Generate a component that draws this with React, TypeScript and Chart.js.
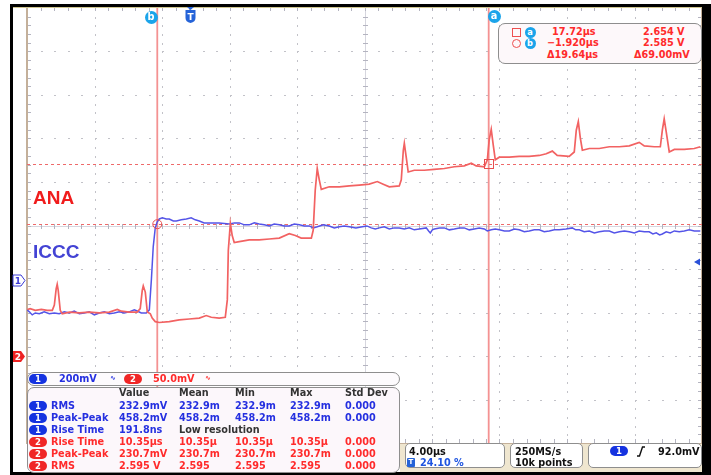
import React, { useEffect, useRef } from 'react';
import { Chart, registerables } from 'chart.js';
Chart.register(...registerables);

// ---------------- data ----------------
const timeLeft = -9.64; // µs at left screen edge (24.10 % pre-trigger)
const timePerDiv = 4.0; // µs/div
const divisions = 10;
const ch1VoltsPerDiv = 0.2; // 200 mV/div
const ch1Bottom = -0.75;
const ch2VoltsPerDiv = 0.05; // 50 mV/div
const ch2Bottom = 2.3335;

// channel 2 (ANA, red): [time µs, volts]
const ch2Samples: [number, number][] = [
  [-9.62, 2.487], [-9.45, 2.488], [-9.15, 2.486], [-8.79, 2.487], [-8.44, 2.486], [-8.14, 2.486],
  [-8.02, 2.492], [-7.91, 2.511], [-7.85, 2.516], [-7.79, 2.509], [-7.67, 2.486], [-7.55, 2.482],
  [-7.13, 2.484], [-6.54, 2.483], [-5.95, 2.484], [-5.36, 2.483], [-4.76, 2.484], [-4.29, 2.487],
  [-4.05, 2.485], [-3.58, 2.484], [-3.11, 2.484], [-2.93, 2.488], [-2.81, 2.509], [-2.75, 2.514],
  [-2.63, 2.507], [-2.51, 2.484], [-2.33, 2.482], [-2.22, 2.477], [-2.04, 2.473], [-1.80, 2.472],
  [-1.21, 2.473], [-0.62, 2.475], [-0.02, 2.476], [0.57, 2.477], [0.98, 2.480], [1.28, 2.478],
  [1.75, 2.477], [2.11, 2.478], [2.23, 2.498], [2.29, 2.555], [2.41, 2.586], [2.52, 2.572],
  [2.64, 2.564], [2.94, 2.565], [3.53, 2.567], [4.12, 2.567], [4.72, 2.568], [5.31, 2.569],
  [5.90, 2.574], [6.26, 2.572], [6.61, 2.569], [7.21, 2.569], [7.32, 2.578], [7.44, 2.624],
  [7.56, 2.649], [7.68, 2.636], [7.80, 2.625], [8.27, 2.628], [8.87, 2.628], [9.46, 2.629],
  [10.05, 2.630], [10.64, 2.631], [11.12, 2.634], [11.47, 2.631], [11.83, 2.628], [12.42, 2.629],
  [12.54, 2.636], [12.66, 2.670], [12.72, 2.678], [12.84, 2.661], [12.95, 2.645], [13.31, 2.647],
  [13.90, 2.647], [14.49, 2.648], [15.09, 2.649], [15.68, 2.651], [16.27, 2.652], [16.69, 2.655],
  [16.98, 2.652], [17.46, 2.651], [17.64, 2.659], [17.75, 2.682], [17.87, 2.694], [17.99, 2.676],
  [18.11, 2.659], [18.35, 2.662], [18.94, 2.662], [19.53, 2.663], [20.12, 2.663], [20.72, 2.664],
  [21.13, 2.666], [21.49, 2.669], [21.78, 2.664], [22.49, 2.663], [22.79, 2.668], [22.91, 2.693],
  [23.03, 2.703], [23.15, 2.684], [23.27, 2.670], [23.68, 2.672], [24.27, 2.672], [24.87, 2.674],
  [25.46, 2.674], [26.05, 2.675], [26.64, 2.679], [26.94, 2.675], [27.53, 2.674], [27.89, 2.674],
  [28.01, 2.693], [28.12, 2.706], [28.24, 2.691], [28.42, 2.668], [28.72, 2.671], [29.31, 2.671],
  [29.90, 2.672], [30.26, 2.674],
];

// channel 1 (ICCC, blue): [time µs, volts]
const ch1Samples: [number, number][] = [
  [-9.64, -0.138], [-9.50, -0.147], [-9.33, -0.161], [-9.15, -0.152], [-8.91, -0.156], [-8.62, -0.147],
  [-8.32, -0.156], [-8.02, -0.152], [-7.73, -0.156], [-7.43, -0.147], [-7.13, -0.152], [-6.84, -0.143],
  [-6.54, -0.156], [-6.25, -0.152], [-5.95, -0.147], [-5.65, -0.161], [-5.36, -0.152], [-5.06, -0.147],
  [-4.76, -0.156], [-4.47, -0.152], [-4.17, -0.147], [-3.88, -0.152], [-3.58, -0.147], [-3.28, -0.138],
  [-3.11, -0.143], [-2.87, -0.152], [-2.57, -0.152], [-2.39, -0.138], [-2.27, 0.0], [-2.16, 0.152],
  [-2.04, 0.239], [-1.92, 0.267], [-1.80, 0.280], [-1.62, 0.285], [-1.39, 0.280], [-1.21, 0.280],
  [-0.97, 0.271], [-0.79, 0.271], [-0.50, 0.276], [-0.20, 0.280], [0.09, 0.285], [0.33, 0.276],
  [0.57, 0.271], [0.86, 0.262], [1.28, 0.262], [1.75, 0.262], [2.35, 0.257], [2.65, 0.262],
  [2.94, 0.262], [3.24, 0.253], [3.53, 0.253], [3.83, 0.262], [4.12, 0.257], [4.42, 0.253],
  [4.72, 0.248], [5.01, 0.257], [5.31, 0.253], [5.60, 0.248], [5.90, 0.248], [6.20, 0.257],
  [6.50, 0.253], [6.79, 0.248], [7.09, 0.248], [7.33, 0.239], [7.56, 0.244], [7.92, 0.253],
  [8.27, 0.248], [8.57, 0.239], [8.87, 0.244], [9.16, 0.248], [9.46, 0.244], [9.85, 0.239],
  [10.23, 0.244], [10.50, 0.248], [10.76, 0.239], [11.00, 0.234], [11.24, 0.239], [11.53, 0.244],
  [11.83, 0.234], [12.12, 0.239], [12.42, 0.239], [12.72, 0.234], [13.01, 0.239], [13.31, 0.230],
  [13.61, 0.234], [14.02, 0.239], [14.16, 0.225], [14.26, 0.216], [14.38, 0.230], [14.50, 0.234],
  [14.80, 0.239], [15.09, 0.239], [15.39, 0.230], [15.68, 0.234], [15.98, 0.239], [16.27, 0.239],
  [16.57, 0.230], [16.86, 0.234], [17.16, 0.239], [17.46, 0.234], [17.64, 0.225], [17.87, 0.230],
  [18.11, 0.234], [18.35, 0.230], [18.65, 0.225], [18.94, 0.225], [19.24, 0.234], [19.53, 0.230],
  [19.83, 0.221], [20.12, 0.225], [20.42, 0.230], [20.72, 0.230], [21.01, 0.221], [21.31, 0.225],
  [21.61, 0.230], [21.90, 0.230], [22.30, 0.234], [22.67, 0.239], [22.88, 0.230], [23.09, 0.230],
  [23.38, 0.221], [23.68, 0.225], [23.98, 0.216], [24.27, 0.221], [24.57, 0.225], [24.87, 0.225],
  [25.16, 0.216], [25.46, 0.221], [25.76, 0.225], [26.05, 0.221], [26.35, 0.216], [26.64, 0.225],
  [26.94, 0.221], [27.23, 0.221], [27.45, 0.211], [27.65, 0.216], [27.85, 0.207], [28.01, 0.211],
  [28.24, 0.221], [28.48, 0.216], [28.72, 0.225], [29.01, 0.221], [29.31, 0.225], [29.60, 0.230],
  [29.90, 0.225], [30.26, 0.225],
];

// cursors: a, b
const cursorTimes = [17.72, -1.92];
const cursorVolts = [2.654, 2.585];
const readoutTimes = ['17.72µs', '\u22121.920µs', 'Δ19.64µs'];
const readoutVolts = ['2.654 V', '2.585 V', 'Δ69.00mV'];

// measurements table
const measHeaders = ['Value', 'Mean', 'Min', 'Max', 'Std Dev'];
const measChannels = [1, 1, 1, 2, 2, 2];
const measNames = ['RMS', 'Peak-Peak', 'Rise Time', 'Rise Time', 'Peak-Peak', 'RMS'];
const measValue = ['232.9mV', '458.2mV', '191.8ns', '10.35µs', '230.7mV', '2.595 V'];
const measMean = ['232.9m', '458.2m', 'Low resolution', '10.35µ', '230.7m', '2.595'];
const measMin = ['232.9m', '458.2m', '', '10.35µ', '230.7m', '2.595'];
const measMax = ['232.9m', '458.2m', '', '10.35µ', '230.7m', '2.595'];
const measStd = ['0.000', '0.000', '', '0.000', '0.000', '0.000'];

const scaleTexts = ['200mV', '50.0mV'];
const timebaseText = '4.00µs';
const delayText = '24.10 %';
const sampleTexts = ['250MS/s', '10k points'];
const triggerText = '92.0mV';

// ---------------- styles ----------------
const F = '"DejaVu Sans", Verdana, sans-serif';
const BLUE_T = '#2530e0';
const RED_T = '#ff2b2b';
const BLUE_L = '#5454e8';
const RED_L = '#f26262';
const CYAN = '#1ba4ea';

const gridPlugin = {
  id: 'scopeGrid',
  beforeDatasetsDraw(chart: any) {
    const { ctx, chartArea: a, scales } = chart;
    const xs = scales.x;
    const ys = scales.y2;
    const minorX = timePerDiv / 5;
    const minorY = ch2VoltsPerDiv / 5;
    ctx.save();
    const xPix = (t: number) => Math.round(xs.getPixelForValue(t));
    const yPix = (v: number) => Math.round(ys.getPixelForValue(v));
    ctx.fillStyle = '#c2c2c8';
    for (let i = 1; i < divisions; i++) {
      if (i === 5) continue;
      const px = xPix(timeLeft + i * timePerDiv);
      for (let k = 1; k < divisions * 5; k++) {
        const py = yPix(ch2Bottom + k * minorY);
        ctx.fillRect(px, py, 1, 2);
      }
    }
    for (let j = 1; j < divisions; j++) {
      if (j === 5) continue;
      const py = yPix(ch2Bottom + j * ch2VoltsPerDiv);
      for (let k = 1; k < divisions * 5; k++) {
        const px = xPix(timeLeft + k * minorX);
        ctx.fillRect(px, py, 2, 1);
      }
    }
    const cx = xPix(timeLeft + 5 * timePerDiv);
    const cy = yPix(ch2Bottom + 5 * ch2VoltsPerDiv);
    ctx.fillStyle = '#d6d6de';
    ctx.fillRect(cx, a.top, 1, a.bottom - a.top);
    ctx.fillRect(a.left, cy, a.right - a.left, 1);
    ctx.fillStyle = '#b4b4c0';
    for (let k = 1; k < divisions * 5; k++) {
      const py = yPix(ch2Bottom + k * minorY);
      ctx.fillRect(cx - 2, py, 5, 1);
      ctx.fillRect(a.left, py, 4, 1);
      ctx.fillRect(a.right - 4, py, 4, 1);
      const px = xPix(timeLeft + k * minorX);
      ctx.fillRect(px, cy - 2, 1, 5);
      ctx.fillRect(px, a.top, 1, 3);
      ctx.fillRect(px, a.bottom - 4, 1, 4);
    }
    ctx.fillStyle = '#c4b09a';
    ctx.fillRect(a.left - 1, a.top, 2, a.bottom - a.top + 1);
    ctx.fillRect(a.left - 1, a.bottom, a.right - a.left + 1, 1);
    ctx.fillRect(a.right - 1, a.top, 1, a.bottom - a.top);
    ctx.fillStyle = '#cfc690';
    ctx.fillRect(a.left - 14, a.top - 1, a.right - a.left + 14, 1);

    const y2 = scales.y2;
    ctx.strokeStyle = '#ee6a6a';
    ctx.lineWidth = 1;
    ctx.setLineDash([3, 3]);
    cursorVolts.forEach((v) => {
      const py = Math.round(y2.getPixelForValue(v)) + 0.5;
      ctx.beginPath();
      ctx.moveTo(a.left, py);
      ctx.lineTo(a.right, py);
      ctx.stroke();
    });
    ctx.setLineDash([]);
    ctx.strokeStyle = 'rgba(240,110,110,0.75)';
    ctx.lineWidth = 1.8;
    cursorTimes.forEach((t) => {
      const px = xs.getPixelForValue(t);
      ctx.beginPath();
      ctx.moveTo(px, a.top);
      ctx.lineTo(px, a.bottom);
      ctx.stroke();
    });
    ctx.restore();
  },
  afterDatasetsDraw(chart: any) {
    const { ctx, scales } = chart;
    const xs = scales.x;
    const y2 = scales.y2;
    ctx.save();
    ctx.strokeStyle = '#e85050';
    ctx.lineWidth = 1;
    const ax = xs.getPixelForValue(cursorTimes[0]);
    const ay = y2.getPixelForValue(cursorVolts[0]);
    ctx.strokeRect(Math.round(ax) - 4.5, Math.round(ay) - 4.5, 9, 9);
    const bx = xs.getPixelForValue(cursorTimes[1]);
    const by = y2.getPixelForValue(cursorVolts[1]);
    ctx.beginPath();
    ctx.arc(bx, by, 4.5, 0, Math.PI * 2);
    ctx.stroke();
    ctx.restore();
  },
};

function Txt(p: { x: number; y: number; c?: string; s?: number; w?: number; children: any; ff?: string }) {
  return (
    <div
      style={{
        position: 'absolute',
        left: p.x,
        top: p.y - 6,
        lineHeight: '12px',
        fontSize: p.s ?? 9.7,
        fontWeight: p.w ?? 700,
        color: p.c ?? '#222',
        fontFamily: p.ff ?? F,
        whiteSpace: 'pre',
      }}
    >
      {p.children}
    </div>
  );
}

function Pill(p: { x: number; y: number; ch: number }) {
  return (
    <div
      style={{
        position: 'absolute',
        left: p.x,
        top: p.y - 5,
        width: 18,
        height: 10,
        borderRadius: 5,
        background: p.ch === 1 ? '#1533e0' : '#f02626',
        color: '#fff',
        fontSize: 8.5,
        fontWeight: 700,
        lineHeight: '10px',
        textAlign: 'center',
        fontFamily: F,
      }}
    >
      {p.ch}
    </div>
  );
}

function Dot(p: { cx: number; cy: number; r: number; label: string }) {
  return (
    <div
      style={{
        position: 'absolute',
        left: p.cx - p.r,
        top: p.cy - p.r,
        width: p.r * 2,
        height: p.r * 2,
        borderRadius: '50%',
        background: CYAN,
        color: '#fff',
        fontSize: p.r * 1.5,
        fontWeight: 700,
        lineHeight: `${p.r * 2 - 1}px`,
        textAlign: 'center',
        fontFamily: F,
      }}
    >
      {p.label}
    </div>
  );
}

const box = (l: number, t: number, w: number, h: number, bg: string, r = 5): React.CSSProperties => ({
  position: 'absolute',
  left: l,
  top: t,
  width: w,
  height: h,
  boxSizing: 'border-box',
  border: '1.5px solid #8e8e8e',
  borderRadius: r,
  background: bg,
});

export default function App() {
  const ref = useRef<HTMLCanvasElement>(null);
  useEffect(() => {
    const chart = new Chart(ref.current as HTMLCanvasElement, {
      type: 'line',
      data: {
        datasets: [
          {
            label: 'ANA',
            data: ch2Samples.map(([t, v]) => ({ x: t, y: v })),
            yAxisID: 'y2',
            borderColor: RED_L,
            borderWidth: 1.7,
            pointRadius: 0,
            tension: 0,
          },
          {
            label: 'ICCC',
            data: ch1Samples.map(([t, v]) => ({ x: t, y: v })),
            yAxisID: 'y1',
            borderColor: BLUE_L,
            borderWidth: 1.5,
            pointRadius: 0,
            tension: 0,
          },
        ],
      },
      options: {
        animation: false,
        responsive: false,
        maintainAspectRatio: false,
        events: [],
        layout: { padding: { left: 27, top: 8, right: 9, bottom: 32 } },
        plugins: { legend: { display: false }, tooltip: { enabled: false } },
        scales: {
          x: { type: 'linear', min: timeLeft, max: timeLeft + divisions * timePerDiv, display: false },
          y1: { type: 'linear', min: ch1Bottom, max: ch1Bottom + divisions * ch1VoltsPerDiv, display: false },
          y2: { type: 'linear', min: ch2Bottom, max: ch2Bottom + divisions * ch2VoltsPerDiv, display: false },
        },
      },
      plugins: [gridPlugin],
    } as any);
    return () => chart.destroy();
  }, []);

  const rowY = (i: number) => 405.5 + i * 12;
  const colX = [119, 179, 235, 290, 345];

  return (
    <div style={{ position: 'absolute', left: 0, top: 0, width: 711, height: 475, background: '#fff', overflow: 'hidden', fontFamily: F }}>
      <div style={{ position: 'absolute', left: 10, top: 4, width: 701, height: 471, background: '#000' }} />
      <div style={{ position: 'absolute', left: 13, top: 7, width: 689, height: 465, background: '#fff' }} />
      <div style={{ position: 'absolute', left: 400, top: 444, width: 302, height: 28, background: '#efe6cf' }} />
      <canvas ref={ref} width={711} height={475} style={{ position: 'absolute', left: 0, top: 0, width: 711, height: 475 }} />

      {/* trace labels */}
      <div style={{ position: 'absolute', left: 33, top: 188, fontFamily: '"Liberation Sans", Arial, sans-serif', fontWeight: 700, fontSize: 19, lineHeight: '19px', color: '#f01c1c' }}>ANA</div>
      <div style={{ position: 'absolute', left: 33, top: 242, fontFamily: '"Liberation Sans", Arial, sans-serif', fontWeight: 700, fontSize: 19, lineHeight: '19px', color: '#4343d4' }}>ICCC</div>

      {/* top markers */}
      <Dot cx={151} cy={17} r={6.5} label="b" />
      <Dot cx={494} cy={16} r={6.5} label="a" />
      <svg style={{ position: 'absolute', left: 184, top: 7 }} width={13} height={17}>
        <path d="M3 0 H10 L6.5 3 Z" fill="#2563d8" />
        <path d="M1.5 3 H11.5 V11 Q11.5 15 6.5 16 Q1.5 15 1.5 11 Z" fill="#2563d8" />
        <text x={6.5} y={12.5} fontSize={9} fontWeight={700} fill="#fff" textAnchor="middle" fontFamily={F}>T</text>
      </svg>

      {/* channel markers */}
      <svg style={{ position: 'absolute', left: 12, top: 274 }} width={15} height={13}>
        <path d="M1 1 H9 L13 6.5 L9 12 H1 Z" fill="#fff" stroke="#3a3ad6" strokeWidth={1} />
        <text x={6} y={10} fontSize={9} fontWeight={700} fill="#3a3ad6" textAnchor="middle" fontFamily={F}>1</text>
      </svg>
      <svg style={{ position: 'absolute', left: 12, top: 350 }} width={15} height={13}>
        <path d="M1 1 H9 L13 6.5 L9 12 H1 Z" fill="#ee2222" />
        <text x={6} y={10} fontSize={9} fontWeight={700} fill="#fff" textAnchor="middle" fontFamily={F}>2</text>
      </svg>
      <svg style={{ position: 'absolute', left: 694, top: 258 }} width={7} height={8}>
        <path d="M0 4 L6 0.5 L6 7.5 Z" fill="#2a50d8" />
      </svg>

      {/* cursor readout */}
      <div style={box(498, 23, 204, 41, '#fdf8fa', 7)} />
      <div style={{ position: 'absolute', left: 512, top: 28, width: 7, height: 7, border: '1px solid #ee5050' }} />
      <div style={{ position: 'absolute', left: 511.5, top: 39, width: 7, height: 7, border: '1px solid #ee5050', borderRadius: '50%' }} />
      <Dot cx={530} cy={32} r={5.5} label="a" />
      <Dot cx={530} cy={43} r={5.5} label="b" />
      <Txt x={552} y={32} c={RED_T}>{readoutTimes[0]}</Txt>
      <Txt x={547} y={43} c={RED_T}>{readoutTimes[1]}</Txt>
      <Txt x={547} y={55} c={RED_T}>{readoutTimes[2]}</Txt>
      <Txt x={643} y={32} c={RED_T}>{readoutVolts[0]}</Txt>
      <Txt x={643} y={43} c={RED_T}>{readoutVolts[1]}</Txt>
      <Txt x={634} y={55} c={RED_T}>{readoutVolts[2]}</Txt>

      {/* channel scale bar */}
      <div style={box(27, 372, 373, 14, '#fdfbfd', 7)} />
      <Pill x={29} y={378.5} ch={1} />
      <Txt x={59} y={378.5} c={BLUE_T}>{scaleTexts[0]}</Txt>
      <Txt x={110} y={378} c={BLUE_T} s={7}>{'∿'}</Txt>
      <Pill x={124} y={378.5} ch={2} />
      <Txt x={153} y={378.5} c={RED_T}>{scaleTexts[1]}</Txt>
      <Txt x={205} y={378} c={RED_T} s={7}>{'∿'}</Txt>

      {/* measurements */}
      <div style={box(27, 387, 373, 86, '#fcf7fb', 7)} />
      {measHeaders.map((h, i) => (
        <Txt key={h} x={colX[i]} y={393} c="#333">{h}</Txt>
      ))}
      {measNames.map((n, i) => {
        const c = measChannels[i] === 1 ? BLUE_T : RED_T;
        const y = rowY(i);
        return (
          <React.Fragment key={i}>
            <Pill x={29} y={y} ch={measChannels[i]} />
            <Txt x={51} y={y} c={c}>{n}</Txt>
            <Txt x={colX[0]} y={y} c={c}>{measValue[i]}</Txt>
            <Txt x={colX[1]} y={y} c={measMean[i] === 'Low resolution' ? '#333' : c}>{measMean[i]}</Txt>
            <Txt x={colX[2]} y={y} c={c}>{measMin[i]}</Txt>
            <Txt x={colX[3]} y={y} c={c}>{measMax[i]}</Txt>
            <Txt x={colX[4]} y={y} c={c}>{measStd[i]}</Txt>
          </React.Fragment>
        );
      })}

      {/* bottom info boxes */}
      <div style={box(405, 443, 100, 25, '#fff', 5)} />
      <Txt x={409} y={451.5} c="#111">{timebaseText}</Txt>
      <div style={{ position: 'absolute', left: 407, top: 458, width: 8, height: 9, background: '#2563d8', borderRadius: 1, color: '#fff', fontSize: 7, fontWeight: 700, lineHeight: '9px', textAlign: 'center' }}>T</div>
      <Txt x={420} y={463} c="#1f55e0">{delayText}</Txt>
      <div style={box(510, 443, 73, 25, '#fff', 5)} />
      <Txt x={515} y={451.5} c="#111">{sampleTexts[0]}</Txt>
      <Txt x={515} y={463} c="#111">{sampleTexts[1]}</Txt>
      <div style={box(588, 443, 114, 25, '#fff', 5)} />
      <Pill x={610} y={451} ch={1} />
      <svg style={{ position: 'absolute', left: 636, top: 446 }} width={10} height={11}>
        <path d="M1 10 H3.5 L6.5 1 H9" stroke="#111" strokeWidth={1.4} fill="none" />
      </svg>
      <Txt x={658} y={451.5} c="#111">{triggerText}</Txt>
    </div>
  );
}
